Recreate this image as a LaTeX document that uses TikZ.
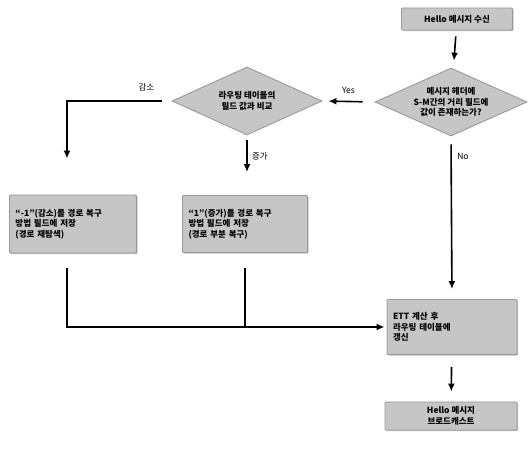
\documentclass[tikz,border=0pt]{standalone}
\usepackage{fontspec}
\setmainfont{Noto Sans CJK KR}
\usetikzlibrary{calc, positioning}
\usetikzlibrary{arrows.meta}
\usetikzlibrary{shapes.geometric, shadows}

\begin{document}
\begin{tikzpicture}[x=1pt, y=-1pt, font=\fontsize{8.5}{10.5}\selectfont,
  box/.style={draw=gray!80, fill=gray!45, line width=0.9pt, rounded corners=1pt,
    drop shadow={opacity=0.5, shadow xshift=1.2pt, shadow yshift=-1.2pt},
    inner sep=3pt, font=\fontsize{8.5}{10.5}\selectfont\bfseries},
  decision/.style={diamond, draw=gray!80, fill=gray!45, line width=0.9pt,
    inner sep=0pt, aspect=2.2, align=center, font=\fontsize{8.5}{10.5}\selectfont\bfseries},
  flow/.style={-{Latex[length=8pt, width=7pt]}, line width=1.6pt},
  wire/.style={line width=1.6pt}]
  \useasboundingbox (0,0) rectangle (531,449);

  % boxes and decisions
  \node[box, minimum width=111pt, minimum height=22pt] (recv) at (457,19) {Hello 메시지 수신};
  \node[decision, minimum width=152pt, minimum height=68pt] (hdr) at (451,102)
    {메시지 헤더에\\S-M간의 거리 필드에\\값이 존재하는가?};
  \node[decision, minimum width=150pt, minimum height=68pt] (cmp) at (247,101)
    {라우팅 테이블의\\필드 값과 비교};
  \node[box, minimum width=127pt, minimum height=58pt, align=left, text width=115pt] (dec) at (73,224)
    {“-1”(감소)를 경로 복구\\방법 필드에 저장\\(경로 재탐색)};
  \node[box, minimum width=125pt, minimum height=57pt, align=left, text width=113pt] (inc) at (245,224)
    {“1”(증가)를 경로 복구\\방법 필드에 저장\\(경로 부분 복구)};
  \node[box, minimum width=130pt, minimum height=55pt, align=left, text width=118pt] (ett) at (452,327)
    {ETT 계산 후\\라우팅 테이블에\\갱신};
  \node[box, minimum width=132pt, minimum height=28pt, align=center] (bcast) at (451,416)
    {Hello 메시지\\브로드캐스트};

  % connectors
  \draw[flow, shorten <=6pt, shorten >=8pt] (recv) -- (hdr);
  \draw[flow, shorten <=12pt, shorten >=6pt] (hdr.west) -- (cmp.east)
    node[midway, above=4pt] {Yes};
  \draw[flow, shorten <=10pt, shorten >=36pt] (cmp.west) -| ([xshift=-6pt]dec.north)
    node[pos=0.12, above=6pt] {감소};
  \draw[flow, shorten <=5pt, shorten >=23pt] (cmp.south) -- (cmp.south |- inc.north)
    node[pos=0.35, right=1pt] {증가};
  \draw[flow, shorten <=8pt, shorten >=10pt] (hdr.south) -- (ett.north)
    node[pos=0.12, right=2pt] {No};
  \draw[flow, shorten <=15pt, shorten >=2pt] ([xshift=-6pt]dec.south) |- (ett.west);
  \draw[wire, shorten <=15pt] (inc.south) -- (inc.south |- ett.west);
  \draw[flow, shorten <=12pt, shorten >=10pt] (ett) -- (bcast);
\end{tikzpicture}
\end{document}
